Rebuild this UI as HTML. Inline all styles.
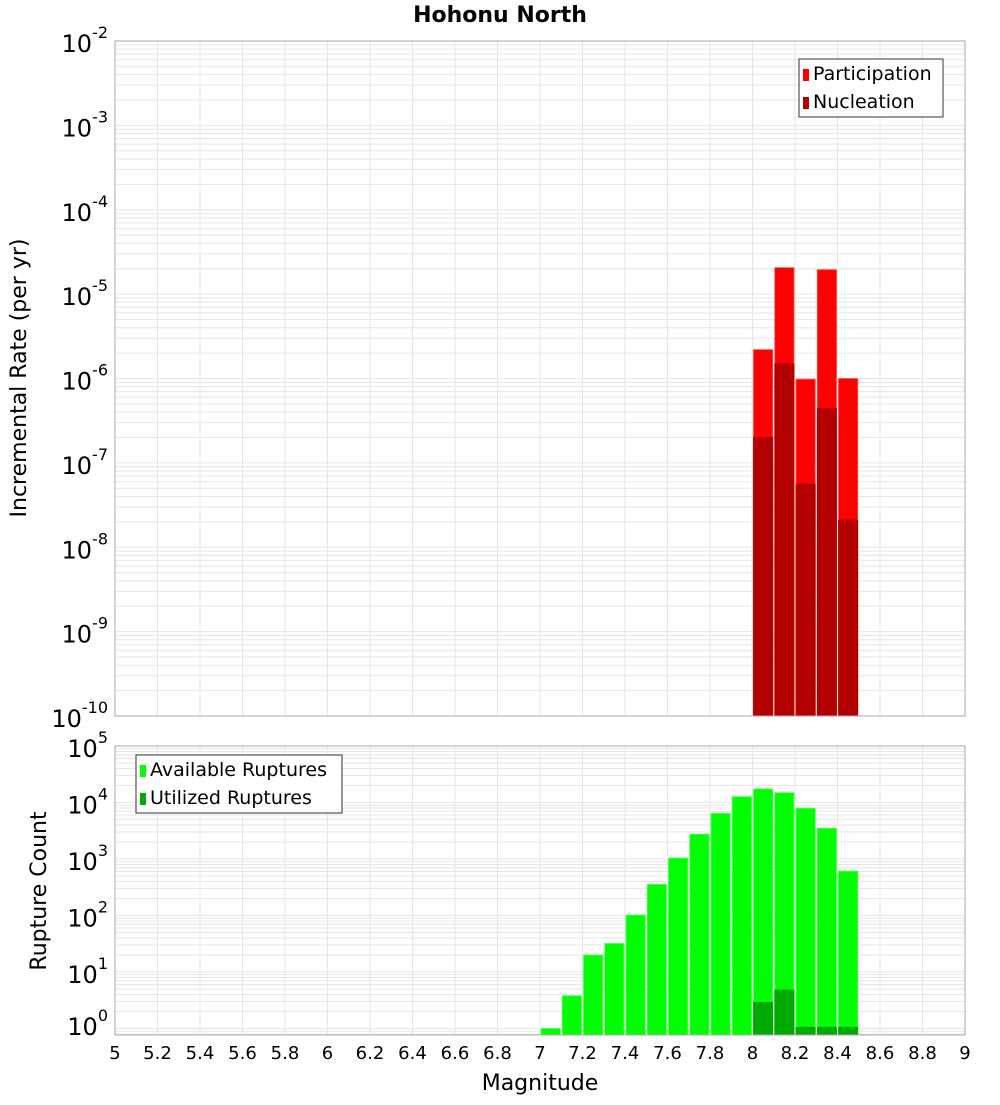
<!DOCTYPE html>
<html><head><meta charset="utf-8"><style>
body{margin:0;background:#fff;}
svg text{font-family:"DejaVu Sans","Liberation Sans",sans-serif;}
</style></head><body>
<svg id="chart" width="1000" height="1100" xmlns="http://www.w3.org/2000/svg">
<rect width="1000" height="1100" fill="#fff"/>
<text x="500" y="22" text-anchor="middle" font-size="22" font-weight="bold">Hohonu North</text>
<g id="top"></g><g id="bot"></g>
<text transform="translate(26,378) rotate(-90)" text-anchor="middle" font-size="22">Incremental Rate (per yr)</text>
<text transform="translate(46,891) rotate(-90)" text-anchor="middle" font-size="22">Rupture Count</text>
<text x="540" y="1090" text-anchor="middle" font-size="22">Magnitude</text>
</svg>
<script>
const mags=[7.05,7.15,7.25,7.35,7.45,7.55,7.65,7.75,7.85,7.95,8.05,8.15,8.25,8.35,8.45];
const rateMags=[8.05,8.15,8.25,8.35,8.45];
const participation=[2.2e-6,2.06e-5,9.8e-7,1.95e-5,1.0e-6];
const nucleation=[2.0e-7,1.5e-6,5.6e-8,4.4e-7,2.1e-8];
const available=[1,3.8,20,32,102,355,1040,2750,6400,12700,17400,14900,7900,3500,610];
const utilized=[0,0,0,0,0,0,0,0,0,0,2.9,4.8,1.05,1.05,1.05];
const xTicks=[5,5.2,5.4,5.6,5.8,6,6.2,6.4,6.6,6.8,7,7.2,7.4,7.6,7.8,8,8.2,8.4,8.6,8.8,9];
const topExps=[-2,-3,-4,-5,-6,-7,-8,-9,-10];
const botExps=[5,4,3,2,1,0];

const NS='http://www.w3.org/2000/svg';
const X0=115,X1=965;
const x=m=>X0+(m-5)/4*(X1-X0);
function mk(p,t,a){const e=document.createElementNS(NS,t);for(const k in a)e.setAttribute(k,a[k]);p.appendChild(e);return e;}
function panel(g,top,bottom,lmax,lmin,name){
  const y=v=>top+(lmax-Math.log10(v))/(lmax-lmin)*(bottom-top);
  const r=mk(g,'rect',{x:X0,y:top,width:X1-X0,height:bottom-top,fill:'#fff'});
  
  
  for(let e=Math.floor(lmin);e<lmax;e++)for(let k=1;k<10;k++){const v=k*Math.pow(10,e);const lv=Math.log10(v);if(lv<lmin||lv>lmax)continue;
    const l=mk(g,'line',{x1:X0,x2:X1,y1:y(v),y2:y(v),stroke:'#e6e6e6','stroke-width':1});
    
    }
  xTicks.forEach(t=>{const l=mk(g,'line',{x1:x(t),x2:x(t),y1:top,y2:bottom,stroke:'#e6e6e6','stroke-width':1});
    
    });
  return y;
}
function bar(g,m,v,y,bottom,fill,name){if(!v)return;const t=y(v);
  const r=mk(g,'rect',{x:x(m-0.05)+1,y:t,width:x(m+0.05)-x(m-0.05)-2,height:bottom-t,fill:fill,stroke:fill==='#ff0000'?'#ff5050':(fill==='#00ff00'?'#50ff50':fill),'stroke-width':0.8});
  
  }
function frame(g,top,bottom){mk(g,'rect',{x:X0,y:top,width:X1-X0,height:bottom-top,fill:'none',stroke:'#aaa','stroke-width':1});}
function ylab(g,e,yy,name){const t=mk(g,'text',{x:108,y:yy+11,'text-anchor':'end','font-size':24});
  
  
  t.textContent='10';const s=mk(t,'tspan',{dy:-14,'font-size':16});s.textContent=String(e);}
function legend(g,lx,ly,w,items,name){const b=mk(g,'rect',{x:lx,y:ly,width:w,height:58,fill:'#fff',stroke:'#333','stroke-width':1});
  
  
  items.forEach((it,i)=>{mk(g,'rect',{x:lx+4,y:ly+10+i*28,width:6,height:12,fill:it[1]});
    const t=mk(g,'text',{x:lx+14,y:ly+21+i*28,'font-size':19});
    
    
    t.textContent=it[0];});}

const gt=document.getElementById('top');
const TT=41,TB=716;
const yt=panel(gt,TT,TB,-2,-10,'top');
rateMags.forEach((m,i)=>bar(gt,m,participation[i],yt,TB,'#ff0000','participation-bar'));
rateMags.forEach((m,i)=>bar(gt,m,nucleation[i],yt,TB,'#b30000','nucleation-bar'));
frame(gt,TT,TB);
topExps.forEach(e=>ylab(gt,e,yt(Math.pow(10,e)),'top-y-tick-label'));
legend(gt,799,59,144,[['Participation','#ff0000'],['Nucleation','#b30000']],'top-legend');

const gb=document.getElementById('bot');
const BT=746,BB=1035;
const yb=panel(gb,BT,BB,5,-0.115,'bottom');
mags.forEach((m,i)=>bar(gb,m,available[i],yb,BB,'#00ff00','available-bar'));
mags.forEach((m,i)=>bar(gb,m,utilized[i],yb,BB,'#00aa00','utilized-bar'));
frame(gb,BT,BB);
botExps.forEach(e=>ylab(gb,e,Math.min(yb(Math.pow(10,e)),1024),'bottom-y-tick-label'));
legend(gb,136,755,206,[['Available Ruptures','#00ff00'],['Utilized Ruptures','#00aa00']],'bottom-legend');
xTicks.forEach(t=>{const l=mk(gb,'text',{x:x(t),y:1059,'text-anchor':'middle','font-size':18});
  
  
  l.textContent=String(t);});
</script>
</body></html>
